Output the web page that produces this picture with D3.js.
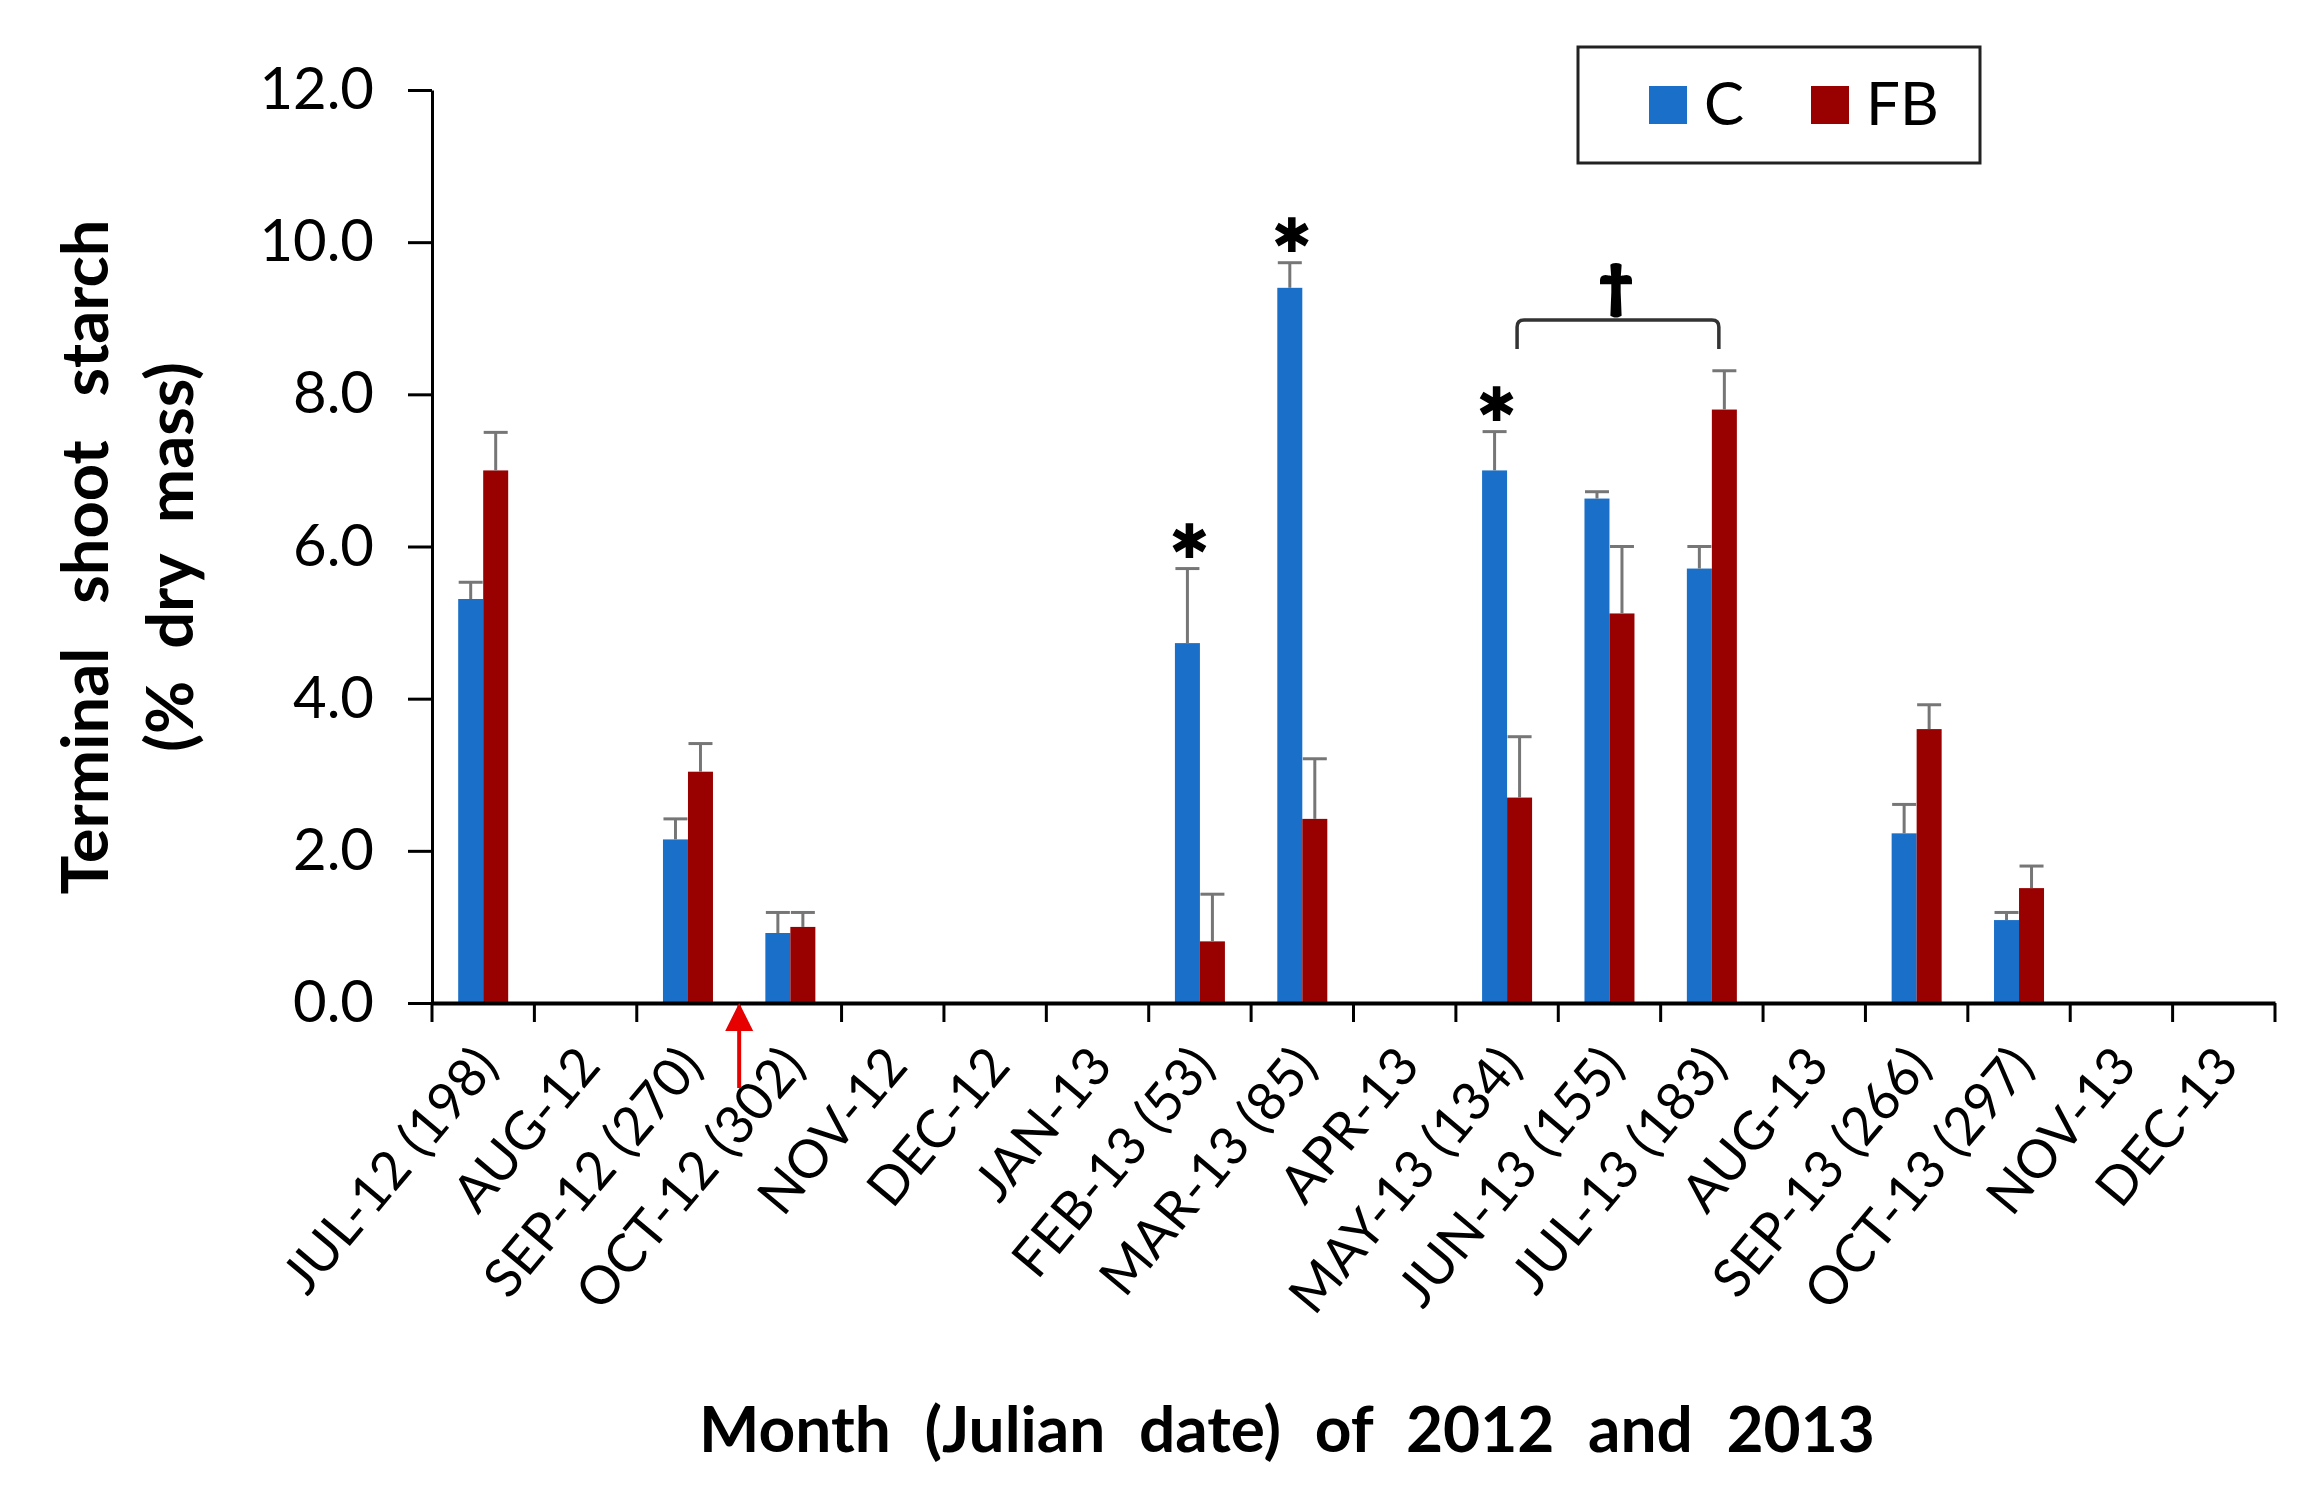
<!DOCTYPE html>
<html>
<head>
<meta charset="utf-8">
<script src="https://cdn.jsdelivr.net/npm/d3@7"></script>
<style>
  body { margin: 0; background: #fff; }
  text { font-family: Lato, "Open Sans", sans-serif; fill: #000; }
</style>
</head>
<body>
<div id="chart"></div>
<script>
(function () {

  // Categories (month + Julian date)
  const months = ["JUL-12 (198)", "AUG-12", "SEP-12 (270)", "OCT-12 (302)", "NOV-12", "DEC-12",
    "JAN-13", "FEB-13 (53)", "MAR-13 (85)", "APR-13", "MAY-13 (134)", "JUN-13 (155)",
    "JUL-13 (183)", "AUG-13", "SEP-13 (266)", "OCT-13 (297)", "NOV-13", "DEC-13"]

  // Series values (null = not sampled)
  const cValues  = [5.31, null, 2.15, 0.92, null, null, null, 4.73, 9.40, null, 7.00, 6.63, 5.71, null, 2.23, 1.09, null, null]
  const cErrors  = [0.22, null, 0.27, 0.27, null, null, null, 0.98, 0.33, null, 0.51, 0.09, 0.29, null, 0.38, 0.10, null, null]
  const fbValues = [7.00, null, 3.04, 1.00, null, null, null, 0.81, 2.42, null, 2.70, 5.12, 7.80, null, 3.60, 1.51, null, null]
  const fbErrors = [0.50, null, 0.37, 0.19, null, null, null, 0.62, 0.79, null, 0.80, 0.88, 0.51, null, 0.32, 0.29, null, null]

  const series = ["C", "FB"]
  const yTicks = [0, 2, 4, 6, 8, 10, 12]

  // annotations
  const starMonths = ["FEB-13 (53)", "MAR-13 (85)", "MAY-13 (134)"]
  const bracketFrom = "MAY-13 (134)"
  const bracketTo = "JUL-13 (183)"
  const arrowMonth = "OCT-12 (302)"

  const width = 2313
  const height = 1507
  const plot = { left: 432, right: 2275, top: 90, bottom: 1003 }

  const svg = d3.select("#chart").append("svg")
      .attr("width", width)
      .attr("height", height)

  const xScale = d3.scaleBand()
    .domain(months)
    .range([plot.left, plot.right])

  const groupScale = d3.scaleBand()
    .domain(series)
    .range([-25, 25])

  const yScale = d3.scaleLinear()
    .domain([0, 12])
    .range([plot.bottom, plot.top])

  const colorScale = d3.scaleOrdinal()
    .domain(series)
    .range(["#1a6fc8", "#990000"])

  const rows = []
  months.forEach((m, i) => {
    if (cValues[i] != null) rows.push({ month: m, set: "C", value: cValues[i], err: cErrors[i] })
    if (fbValues[i] != null) rows.push({ month: m, set: "FB", value: fbValues[i], err: fbErrors[i] })
  })
  const mid = m => xScale(m) + xScale.bandwidth() / 2
  const barMid = d => mid(d.month) + groupScale(d.set) + groupScale.bandwidth() / 2

  // Bars
  svg.selectAll("rect.bar")
    .data(rows)
    .join("rect")
    .attr("class", "bar")
    .attr("x", d => mid(d.month) + groupScale(d.set))
    .attr("width", groupScale.bandwidth())
    .attr("y", d => yScale(d.value))
    .attr("height", d => yScale(0) - yScale(d.value))
    .attr("fill", d => colorScale(d.set))

  // Error bars (upper only)
  const errG = svg.append("g")
    .attr("stroke", "#767676")
    .attr("stroke-width", 3)
  errG.selectAll("line.stem")
    .data(rows)
    .join("line")
    .attr("x1", barMid)
    .attr("x2", barMid)
    .attr("y1", d => yScale(d.value))
    .attr("y2", d => yScale(d.value + d.err))
  errG.selectAll("line.cap")
    .data(rows)
    .join("line")
    .attr("x1", d => barMid(d) - 12)
    .attr("x2", d => barMid(d) + 12)
    .attr("y1", d => yScale(d.value + d.err))
    .attr("y2", d => yScale(d.value + d.err))

  // Y axis
  const yAxis = svg.append("g")
    .attr("transform", "translate(" + plot.left + ",0)")
    .call(d3.axisLeft(yScale).tickValues(yTicks).tickFormat(d3.format(".1f")).tickSizeInner(24).tickSizeOuter(0).tickPadding(34))
  yAxis.select(".domain").attr("stroke", "#000").attr("stroke-width", 3)
  yAxis.selectAll(".tick line").attr("stroke", "#000").attr("stroke-width", 3)
  yAxis.selectAll(".tick text")
    .attr("font-size", 58)
    .attr("font-family", "Lato")
    .attr("fill", "#000")

  // X axis
  const xAxis = svg.append("g")
    .attr("transform", "translate(0," + plot.bottom + ")")
    .call(d3.axisBottom(xScale).tickSize(0).tickFormat(""))
  xAxis.select(".domain").attr("stroke", "#000").attr("stroke-width", 4)
  xAxis.selectAll(".tick").remove()

  const boundaries = months.map(m => xScale(m)).concat([plot.right])
  svg.append("g")
    .selectAll("line")
    .data(boundaries)
    .join("line")
    .attr("x1", d => d).attr("x2", d => d)
    .attr("y1", plot.bottom).attr("y2", plot.bottom + 19)
    .attr("stroke", "#000")
    .attr("stroke-width", 3)

  svg.append("g")
    .selectAll("text")
    .data(months)
    .join("text")
    .attr("transform", d => "translate(" + (mid(d) + 17) + "," + (plot.bottom + 64) + ") rotate(-50)")
    .attr("text-anchor", "end")
    .attr("font-size", 53)
    .text(d => d)

  // Axis titles
  svg.append("text")
    .attr("x", 1287)
    .attr("y", 1452)
    .attr("text-anchor", "middle")
    .attr("font-size", 64)
    .attr("font-weight", "bold")
    .attr("word-spacing", 18)
    .text("Month (Julian date) of 2012 and 2013")

  svg.append("text")
    .attr("transform", "translate(108,557) rotate(-90)")
    .attr("text-anchor", "middle")
    .attr("font-size", 65)
    .attr("font-weight", "bold")
    .attr("word-spacing", 28)
    .text("Terminal shoot starch")

  svg.append("text")
    .attr("transform", "translate(193,557) rotate(-90)")
    .attr("text-anchor", "middle")
    .attr("font-size", 65)
    .attr("font-weight", "bold")
    .attr("word-spacing", 16)
    .text("(% dry mass)")

  // Significance asterisks on C bars
  const starRows = rows.filter(d => d.set === "C" && starMonths.includes(d.month))
  svg.selectAll("path.star")
    .data(starRows)
    .join("path")
    .attr("class", "star")
    .attr("transform", d => "translate(" + (barMid(d) + 2) + "," + (yScale(d.value + d.err) - 28) + ")")
    .attr("d", d3.symbol().type(d3.symbolAsterisk).size(850))
    .attr("stroke", "#000")
    .attr("stroke-width", 7.5)
    .attr("fill", "none")

  // Bracket (dagger) between MAY-13 and JUL-13
  const bx1 = mid(bracketFrom) + 10
  const bx2 = mid(bracketTo) + 7
  const by = 320
  const bracket = d3.path()
  bracket.moveTo(bx1, by + 29)
  bracket.lineTo(bx1, by + 7)
  bracket.quadraticCurveTo(bx1, by, bx1 + 7, by)
  bracket.lineTo(bx2 - 7, by)
  bracket.quadraticCurveTo(bx2, by, bx2, by + 7)
  bracket.lineTo(bx2, by + 29)
  svg.append("path")
    .attr("d", bracket.toString())
    .attr("fill", "none")
    .attr("stroke", "#333")
    .attr("stroke-width", 3.5)

  svg.append("text")
    .attr("x", (bx1 + bx2) / 2 - 2)
    .attr("y", 306)
    .attr("text-anchor", "middle")
    .attr("font-family", "DejaVu Sans")
    .attr("font-weight", "bold")
    .attr("font-size", 56)
    .attr("stroke", "#000")
    .attr("stroke-width", 4)
    .text("\u2020")

  // Red arrow marking treatment date
  const ax = xScale(arrowMonth)
  svg.append("line")
    .attr("x1", ax).attr("x2", ax)
    .attr("y1", plot.bottom + 85).attr("y2", plot.bottom + 20)
    .attr("stroke", "#e60000")
    .attr("stroke-width", 4)
  svg.append("path")
    .attr("d", "M" + ax + "," + plot.bottom + " L" + (ax - 14) + "," + (plot.bottom + 28) + " L" + (ax + 14) + "," + (plot.bottom + 28) + " Z")
    .attr("fill", "#e60000")

  // Legend
  const legend = svg.append("g")
  legend.append("rect")
    .attr("x", 1578).attr("y", 47)
    .attr("width", 402).attr("height", 116)
    .attr("fill", "#fff")
    .attr("stroke", "#222")
    .attr("stroke-width", 3)
  const legendX = d3.scaleOrdinal().domain(series).range([1649, 1811])
  legend.selectAll("rect.key")
    .data(series)
    .join("rect")
    .attr("class", "key")
    .attr("x", d => legendX(d)).attr("y", 86)
    .attr("width", 38).attr("height", 38)
    .attr("fill", d => colorScale(d))
  legend.selectAll("text")
    .data(series)
    .join("text")
    .attr("x", d => legendX(d) + 55)
    .attr("y", 125)
    .attr("font-size", 60)
    .text(d => d)

})();
</script>
</body>
</html>
